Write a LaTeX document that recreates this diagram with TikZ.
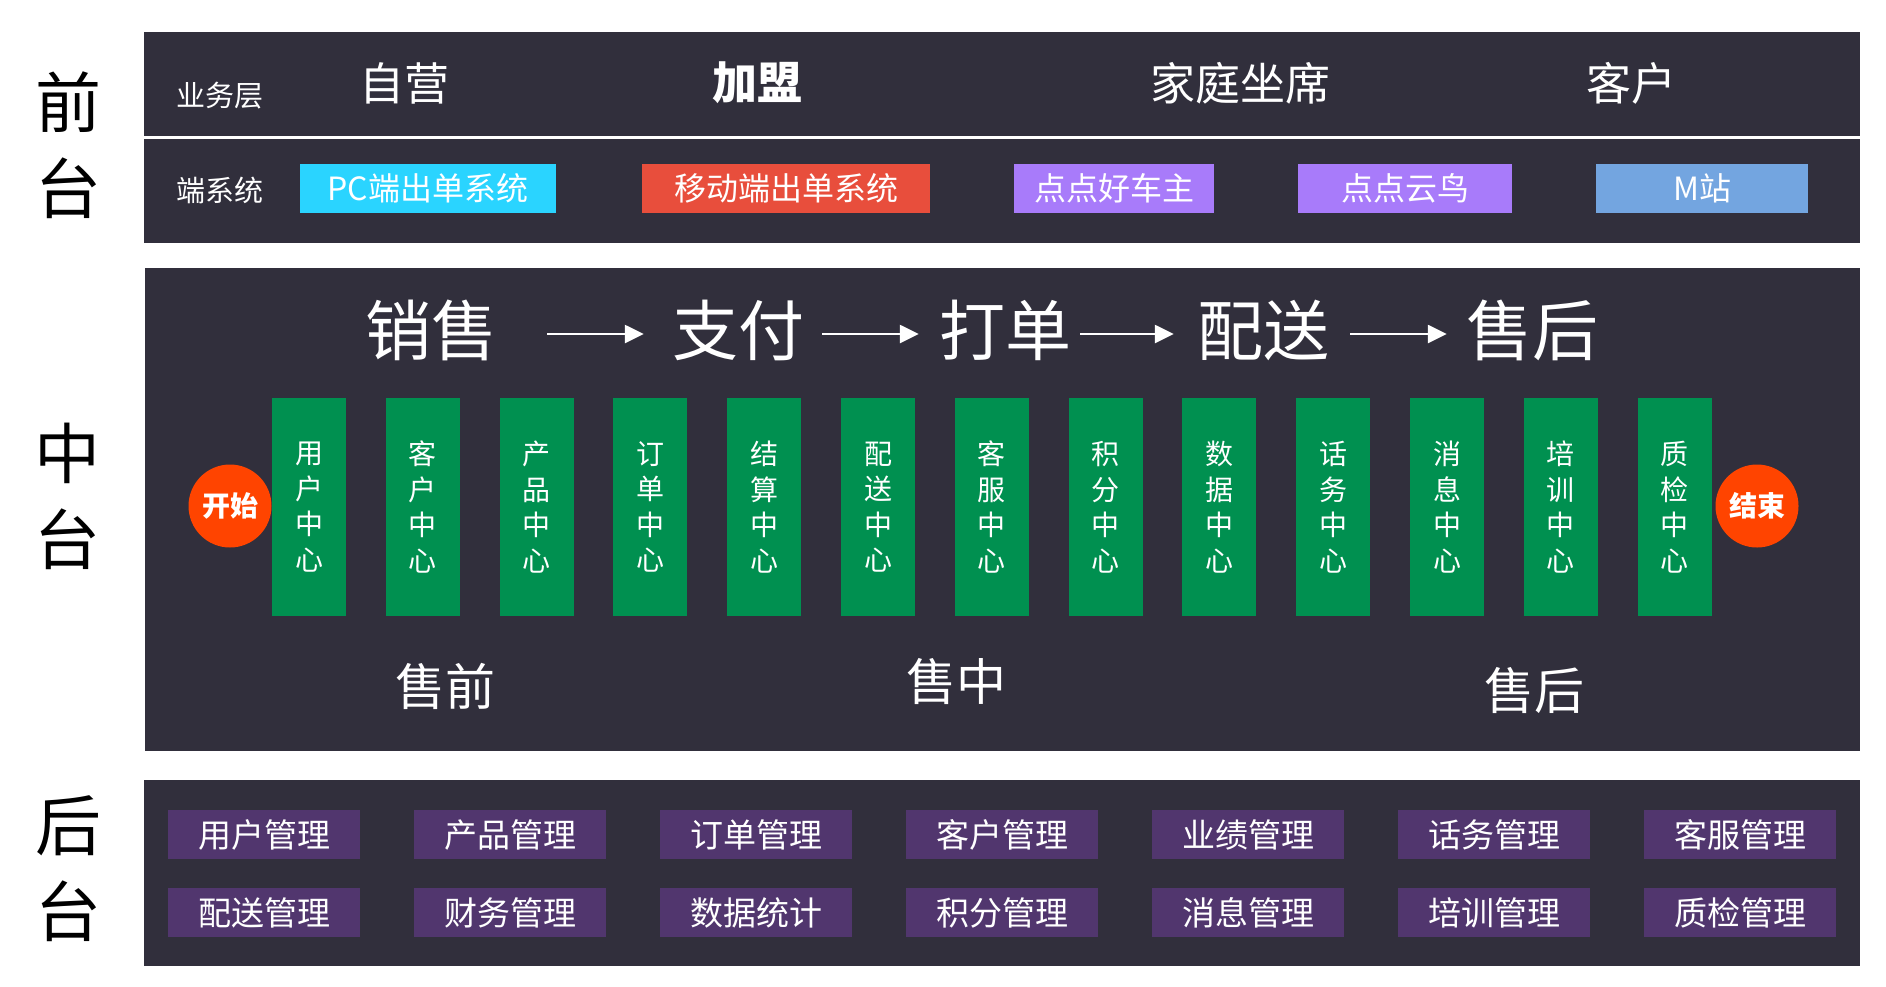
\documentclass[tikz,border=0pt]{standalone}
\usepackage{fontspec}
\newfontfamily\cjk{Noto Sans CJK SC}
\usetikzlibrary{arrows.meta,positioning}
\definecolor{panelbg}{RGB}{49,47,60}
\definecolor{hubgreen}{RGB}{0,144,80}
\definecolor{pccyan}{RGB}{42,212,255}
\definecolor{mobred}{RGB}{232,78,60}
\definecolor{appviolet}{RGB}{168,123,250}
\definecolor{siteblue}{RGB}{115,165,224}
\definecolor{mgmtplum}{RGB}{81,54,110}
\definecolor{dotorange}{RGB}{255,68,0}

\begin{document}
\begin{tikzpicture}[x=1pt, y=-1pt,
      every node/.style={font=\cjk, text=white, inner sep=0pt},
      side/.style={text=black, align=center, font=\cjk\fontsize{66}{86}\selectfont},
      layer/.style={font=\cjk\fontsize{29}{29}\selectfont},
      biz/.style={font=\cjk\fontsize{45}{45}\selectfont},
      sysbtn/.style={minimum width=#1, minimum height=49pt, font=\cjk\fontsize{32}{32}\selectfont},
      flow/.style={font=\cjk\fontsize{66}{66}\selectfont},
      flowarrow/.style={draw=white, line width=2.5pt, -{Triangle[length=19pt,width=18pt]}},
      hub/.style={fill=hubgreen, minimum width=74pt, minimum height=218pt, align=center,
        font=\cjk\fontsize{28}{35.5}\selectfont},
      endpt/.style={circle, fill=dotorange, minimum size=83pt, font=\cjk\bfseries\fontsize{28}{28}\selectfont},
      phase/.style={font=\cjk\fontsize{50}{50}\selectfont},
      mgmt/.style={fill=mgmtplum, minimum width=192pt, minimum height=49pt, font=\cjk\fontsize{33}{33}\selectfont}
    ]
    \useasboundingbox (0,0) rectangle (1886,986);
    \fill[panelbg] (144,32) rectangle (1860,136);
    \fill[panelbg] (144,139) rectangle (1860,243);
    \fill[panelbg] (145,268) rectangle (1860,751);
    \fill[panelbg] (144,780) rectangle (1860,966);

    \node[side] (qiantai) at (68,145) {前\\台};
    \node[side] (zhongtai) at (67,496) {中\\台};
    \node[side] (houtai) at (68,869) {后\\台};

    \node[layer] (yewu) at (220,96) {业务层};
    \node[biz] (ziying) at (404,83) {自营};
    \node[biz, font=\cjk\bfseries\fontsize{45}{45}\selectfont] (jiameng) at (757,83) {加盟};
    \node[biz] (jiating) at (1240,83) {家庭坐席};
    \node[biz] (kehu) at (1631,83) {客户};

    \node[layer] (duanxt) at (220,190) {端系统};
    \foreach \n/\x/\w/\c/\t in {pc/428/256/pccyan/PC端出单系统, mob/786/288/mobred/移动端出单系统,
        hcz/1114/200/appviolet/点点好车主, yn/1405/214/appviolet/点点云鸟, msite/1702/212/siteblue/M站} {
      \node[sysbtn=\w pt, fill=\c] (\n) at (\x,188.5) {\t};
    }

    \node[flow] (xs) at (431,330) {销售};
    \node[flow] (zf) at (738,330) {支付};
    \node[flow] (dd) at (1005,330) {打单};
    \node[flow] (ps) at (1263,330) {配送};
    \node[flow] (sh) at (1532,330) {售后};
    \foreach \a/\b/\s/\e in {xs/zf/50/28, zf/dd/18/20, dd/ps/9/23, ps/sh/21/19} {
      \draw[flowarrow] ([xshift=\s pt, yshift=-4pt]\a.east) -- ([xshift=-\e pt, yshift=-4pt]\b.west);
    }

    \node[endpt] (start) at (230,506) {开始};
    \foreach \i/\p/\q in {1/用/户, 2/客/户, 3/产/品, 4/订/单, 5/结/算, 6/配/送, 7/客/服,
        8/积/分, 9/数/据, 10/话/务, 11/消/息, 12/培/训, 13/质/检} {
      \node[hub] (hub\i) at ({309+(\i-1)*113.8},507) {\p\\\q\\中\\心};
    }
    \node[endpt] (finish) at (1757,506) {结束};

    \node[phase] (shouqian) at (445,686) {售前};
    \node[phase] (shouzhong) at (956,681) {售中};
    \node[phase] (shouhou) at (1534,690) {售后};

    \foreach \i/\t in {1/用户管理, 2/产品管理, 3/订单管理, 4/客户管理, 5/业绩管理, 6/话务管理, 7/客服管理} {
      \node[mgmt] (mga\i) at ({264+(\i-1)*246},834.5) {\t};
    }
    \foreach \i/\t in {1/配送管理, 2/财务管理, 3/数据统计, 4/积分管理, 5/消息管理, 6/培训管理, 7/质检管理} {
      \node[mgmt] (mgb\i) at ({264+(\i-1)*246},912.5) {\t};
    }
  \end{tikzpicture}
\end{document}
